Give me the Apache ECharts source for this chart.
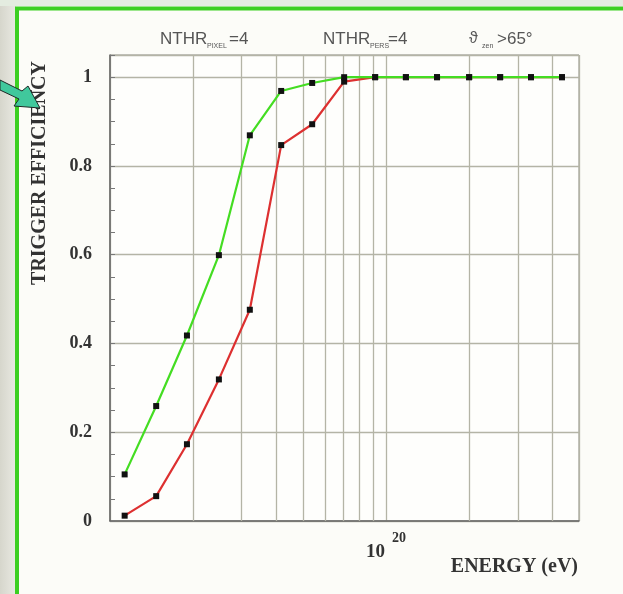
<!DOCTYPE html>
<html><head><meta charset="utf-8">
<script src="https://cdn.jsdelivr.net/npm/echarts@6/dist/echarts.min.js"></script>
<style>html,body{margin:0;padding:0;background:#fbfbf6}#c{width:623px;height:594px}</style>
</head><body><div id="c"></div>
<script>
// Energies (eV) of the simulated points
const energies = [1.13e19, 1.47e19, 1.9e19, 2.48e19, 3.21e19, 4.17e19, 5.4e19, 7.05e19, 9.13e19, 1.18e20, 1.53e20, 2.0e20, 2.59e20, 3.35e20, 4.34e20];
// Trigger efficiency, green curve
const greenEff = [0.105, 0.259, 0.418, 0.599, 0.869, 0.969, 0.987, 1.0, 1.0, 1.0, 1.0, 1.0, 1.0, 1.0, 1.0];
// Trigger efficiency, red curve
const redEff = [0.012, 0.056, 0.173, 0.319, 0.476, 0.847, 0.894, 0.99, 1.0, 1.0, 1.0, 1.0, 1.0, 1.0, 1.0];
// Log-axis grid lines (eV)
const xGridLines = [2e19, 3e19, 4e19, 5e19, 6e19, 7e19, 8e19, 9e19, 2e20, 3e20, 4e20];
// Axis ranges
const xRange = [1e19, 5e20];
const yRange = [0, 1.05];
const yMajor = 0.2;
const yMinor = 0.05;

const chart = echarts.init(document.getElementById('c'), null, {renderer: 'canvas'});
const gridColor = '#b4b4a6';
const serif = '"Liberation Serif", "DejaVu Serif", serif';
const sans = '"Liberation Sans", "DejaVu Sans", sans-serif';

const pair = (xs, ys) => xs.map((x, i) => [x, ys[i]]);

chart.setOption({
  backgroundColor: '#fcfcf8',
  animation: false,
  grid: {left: 110, right: 44, top: 55, bottom: 73, show: true, borderColor: '#8a8a80', borderWidth: 1, backgroundColor: '#fefefc'},
  xAxis: {
    type: 'log', logBase: 10, min: xRange[0], max: xRange[1],
    axisLine: {show: true, onZero: false, lineStyle: {color: '#666', width: 1.5}},
    axisTick: {show: false},
    splitLine: {show: true, lineStyle: {color: gridColor, width: 1.3}},
    axisLabel: {
      margin: 8,
      formatter: v => (Math.abs(Math.log10(v) - 20) < 1e-6 ? '{a|10}{b|20}' : ''),
      rich: {
        a: {fontFamily: serif, fontWeight: 'bold', fontSize: 19, color: '#333', padding: [14, 0, 0, 0]},
        b: {fontFamily: serif, fontWeight: 'bold', fontSize: 14, color: '#333', padding: [0, 0, 14, 7]}
      }
    }
  },
  yAxis: [{
    type: 'value', min: yRange[0], max: yRange[1], interval: yMajor,
    axisLine: {show: true, lineStyle: {color: '#666', width: 1.5}},
    axisTick: {show: false},
    splitLine: {show: true, lineStyle: {color: gridColor, width: 1.3}},
    axisLabel: {showMaxLabel: false, margin: 18, fontFamily: serif, fontWeight: 'bold', fontSize: 18, color: '#333'}
  }, {
    type: 'value', position: 'left', min: yRange[0], max: yRange[1], interval: yMinor,
    axisLine: {show: false},
    axisTick: {show: true, inside: true, length: 5, lineStyle: {color: '#777', width: 1}},
    splitLine: {show: false},
    axisLabel: {show: false}
  }],
  series: [{
    type: 'line', name: 'red', data: pair(energies, redEff),
    symbol: 'rect', symbolSize: 6,
    lineStyle: {color: '#dd3030', width: 2.2},
    itemStyle: {color: '#111'},
    z: 3
  }, {
    type: 'line', name: 'green', data: pair(energies, greenEff),
    symbol: 'rect', symbolSize: 6,
    lineStyle: {color: '#44dd22', width: 2.2},
    itemStyle: {color: '#111'},
    z: 4,
    markLine: {
      silent: true, symbol: ['none', 'none'], label: {show: false},
      lineStyle: {color: gridColor, width: 1.3, type: 'solid'},
      data: xGridLines.map(v => ({xAxis: v})),
      z: 1
    }
  }],
  graphic: [
    {type: 'rect', left: 0, top: 0, shape: {width: 16, height: 594}, z: 10,
     style: {fill: new echarts.graphic.LinearGradient(0, 0, 1, 0, [{offset: 0, color: '#d6d6cc'}, {offset: 1, color: '#e9e9e2'}])}},
    {type: 'rect', left: 0, top: 0, shape: {width: 623, height: 6}, z: 10, style: {fill: '#e4ece0'}},
    {type: 'rect', shape: {x: 17, y: 8.5, width: 700, height: 700}, z: 11, style: {fill: 'none', stroke: '#3ccf22', lineWidth: 4}},
    {type: 'text', z: 12, x: 40, y: 173, rotation: Math.PI / 2,
     style: {text: 'TRIGGER EFFICIENCY', fontFamily: serif, fontWeight: 'bold', fontSize: 20, fill: '#333', align: 'center', verticalAlign: 'middle'}},
    {type: 'polygon', z: 13, shape: {points: [[0, 80], [22, 91], [28, 86], [40, 108], [14, 106], [19, 99], [0, 90]]},
     style: {fill: '#40c89c', stroke: '#1e2a26', lineWidth: 1}},
    {type: 'text', z: 12, x: 578, y: 567,
     style: {text: 'ENERGY (eV)', fontFamily: serif, fontWeight: 'bold', fontSize: 20, fill: '#333', align: 'right', verticalAlign: 'middle'}},
    {type: 'text', z: 12, x: 160, y: 39, style: {text: 'NTHR', fontFamily: sans, fontSize: 17, fill: '#555', verticalAlign: 'middle'}},
    {type: 'text', z: 12, x: 207, y: 46, style: {text: 'PIXEL', fontFamily: sans, fontSize: 7, fill: '#555', verticalAlign: 'middle'}},
    {type: 'text', z: 12, x: 229, y: 39, style: {text: '=4', fontFamily: sans, fontSize: 17, fill: '#555', verticalAlign: 'middle'}},
    {type: 'text', z: 12, x: 323, y: 39, style: {text: 'NTHR', fontFamily: sans, fontSize: 17, fill: '#555', verticalAlign: 'middle'}},
    {type: 'text', z: 12, x: 370, y: 46, style: {text: 'PERS', fontFamily: sans, fontSize: 7, fill: '#555', verticalAlign: 'middle'}},
    {type: 'text', z: 12, x: 388, y: 39, style: {text: '=4', fontFamily: sans, fontSize: 17, fill: '#555', verticalAlign: 'middle'}},
    {type: 'text', z: 12, x: 469, y: 39, style: {text: 'ϑ', fontFamily: sans, fontSize: 16, fill: '#555', verticalAlign: 'middle'}},
    {type: 'text', z: 12, x: 482, y: 46, style: {text: 'zen', fontFamily: sans, fontSize: 7, fill: '#555', verticalAlign: 'middle'}},
    {type: 'text', z: 12, x: 497, y: 39, style: {text: '>65°', fontFamily: sans, fontSize: 17, fill: '#555', verticalAlign: 'middle'}}
  ]
});
</script>
</body></html>
